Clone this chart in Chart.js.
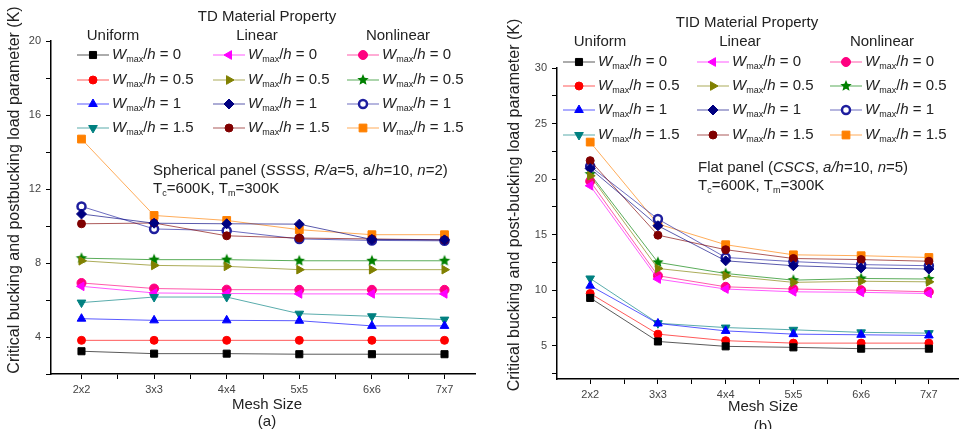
<!DOCTYPE html>
<html>
<head>
<meta charset="utf-8">
<script src="https://cdn.jsdelivr.net/npm/chart.js@4.4.1/dist/chart.umd.min.js"></script>
<style>
    html, body { margin: 0; padding: 0; background: #fff; }
    #wrap { position: relative; width: 965px; height: 429px; overflow: hidden; }
    #chartA { position: absolute; left: 0; top: 0; }
    #chartB { position: absolute; left: 483px; top: 0; }
</style>
</head>
<body>
<div id="wrap">
    <canvas id="chartA" width="482" height="429"></canvas>
    <canvas id="chartB" width="482" height="429"></canvas>
</div>
<script>
// categories / tick labels
const meshSizes = ['2x2', '3x3', '4x4', '5x5', '6x6', '7x7'];
const profiles = ['Uniform', 'Linear', 'Nonlinear'];
const wRatios = ['0', '0.5', '1', '1.5'];
const sphYLabels = [4, 8, 12, 16, 20];
const flatYLabels = [5, 10, 15, 20, 25, 30];

// (a) spherical panel, SSSS
const sphUniform0 = [3.23, 3.10, 3.10, 3.07, 3.07, 3.07];
const sphUniform05 = [3.82, 3.82, 3.82, 3.82, 3.82, 3.82];
const sphUniform1 = [4.99, 4.90, 4.90, 4.88, 4.60, 4.60];
const sphUniform15 = [5.86, 6.16, 6.16, 5.26, 5.12, 4.94];
const sphLinear0 = [6.74, 6.38, 6.35, 6.33, 6.33, 6.33];
const sphLinear05 = [8.12, 7.87, 7.82, 7.64, 7.64, 7.64];
const sphLinear1 = [10.65, 10.15, 10.12, 10.10, 9.27, 9.25];
const sphLinear15 = [10.12, 10.16, 9.47, 9.35, 9.30, 9.25];
const sphNonlinear0 = [6.92, 6.62, 6.56, 6.55, 6.55, 6.55];
const sphNonlinear05 = [8.26, 8.18, 8.18, 8.12, 8.12, 8.12];
const sphNonlinear1 = [11.06, 9.84, 9.75, 9.30, 9.22, 9.20];
const sphNonlinear15 = [14.70, 10.57, 10.30, 9.80, 9.53, 9.53];

// (b) flat panel, CSCS
const flatUniform0 = [9.30, 5.38, 4.94, 4.85, 4.73, 4.73];
const flatUniform05 = [9.70, 6.04, 5.45, 5.23, 5.23, 5.23];
const flatUniform1 = [10.40, 7.00, 6.33, 6.04, 5.98, 5.92];
const flatUniform15 = [11.05, 7.02, 6.63, 6.43, 6.20, 6.13];
const flatLinear0 = [19.40, 11.00, 10.10, 9.85, 9.80, 9.70];
const flatLinear05 = [20.30, 11.95, 11.30, 10.70, 10.80, 10.75];
const flatLinear1 = [20.95, 15.80, 12.64, 12.20, 12.00, 11.90];
const flatLinear15 = [21.66, 14.95, 13.64, 12.85, 12.75, 12.60];
const flatNonlinear0 = [19.80, 11.30, 10.30, 10.10, 10.00, 9.85];
const flatNonlinear05 = [20.45, 12.50, 11.50, 10.90, 11.05, 11.00];
const flatNonlinear1 = [21.15, 16.40, 12.94, 12.57, 12.30, 12.20];
const flatNonlinear15 = [23.33, 15.96, 14.09, 13.18, 13.10, 12.94];

const FONT = '"Liberation Sans", Arial, sans-serif';

// filled five point star for the nonlinear 0.5 series
function makeStar(color, r) {
    const c = document.createElement('canvas');
    const s = Math.ceil(r * 2) + 2;
    c.width = c.height = s;
    const g = c.getContext('2d');
    g.fillStyle = color;
    g.beginPath();
    for (let i = 0; i < 10; i++) {
        const rr = i % 2 ? r * 0.45 : r;
        const a = -Math.PI / 2 + i * Math.PI / 5;
        g.lineTo(s / 2 + rr * Math.cos(a), s / 2 + rr * Math.sin(a));
    }
    g.closePath();
    g.fill();
    return c;
}

const styles = {
    Uniform: [
        { color: '#000000', pointStyle: 'rect', radius: 5 },
        { color: '#ff0000', pointStyle: 'circle', radius: 4 },
        { color: '#0000ff', pointStyle: 'triangle', radius: 5 },
        { color: '#008080', pointStyle: 'triangle', rotation: 180, radius: 5 }
    ],
    Linear: [
        { color: '#ff00ff', pointStyle: 'triangle', rotation: 270, radius: 5 },
        { color: '#808000', pointStyle: 'triangle', rotation: 90, radius: 5 },
        { color: '#000080', pointStyle: 'rectRot', radius: 5 },
        { color: '#800000', pointStyle: 'circle', radius: 4 }
    ],
    Nonlinear: [
        { color: '#ff0080', pointStyle: 'circle', radius: 4.5 },
        { color: '#008000', pointStyle: makeStar('#008000', 6), radius: 6 },
        { color: '#1e1e9e', pointStyle: 'circle', radius: 4, fill: '#ffffff', borderWidth: 2.5 },
        { color: '#ff8000', pointStyle: 'rect', radius: 5.5 }
    ]
};

function fade(hex, a) {
    const n = parseInt(hex.slice(1), 16);
    return `rgba(${n >> 16}, ${(n >> 8) & 255}, ${n & 255}, ${a})`;
}

function buildDatasets(series) {
    const out = [];
    profiles.forEach(p => {
        series[p].forEach((vals, i) => {
            const s = styles[p][i];
            out.push({
                label: `${p} Wmax/h = ${wRatios[i]}`,
                profile: p,
                ratio: wRatios[i],
                data: vals.map((v, k) => ({ x: k, y: v })),
                borderColor: fade(s.color, 0.65),
                borderWidth: 1,
                backgroundColor: s.fill || s.color,
                pointBackgroundColor: s.fill || s.color,
                pointBorderColor: s.color,
                pointBorderWidth: s.borderWidth || 1,
                pointStyle: s.pointStyle,
                pointRotation: s.rotation || 0,
                pointRadius: s.radius,
                tension: 0
            });
        });
    });
    return out;
}

// draw a run of text pieces (italic / subscript) from x
function drawRuns(ctx, x, y, runs, size) {
    runs.forEach(r => {
        const sz = r.sub ? Math.round(size * 0.6) : size;
        ctx.font = `${r.i ? 'italic ' : ''}${sz}px ${FONT}`;
        ctx.fillText(r.t, x, r.sub ? y + 5 : y);
        x += ctx.measureText(r.t).width;
    });
}

function makeTextPlugin(cfg) {
    return {
        id: 'panelText',
        afterDraw(chart) {
            const ctx = chart.ctx;
            ctx.save();
            ctx.fillStyle = '#222';
            ctx.textBaseline = 'middle';

            // legend header
            ctx.textAlign = 'center';
            ctx.font = `15px ${FONT}`;
            ctx.fillText(cfg.legendTitle, cfg.titleX, cfg.titleY);
            profiles.forEach((p, c) => ctx.fillText(p, cfg.headerX[c], cfg.headerY));

            // legend rows
            ctx.textAlign = 'left';
            chart.data.datasets.forEach(ds => {
                const c = profiles.indexOf(ds.profile);
                const r = wRatios.indexOf(ds.ratio);
                const y = cfg.rowY[r];
                const x0 = cfg.sampleX[c];
                const x1 = x0 + 32;
                ctx.strokeStyle = ds.borderColor;
                ctx.lineWidth = 1;
                ctx.beginPath();
                ctx.moveTo(x0, y);
                ctx.lineTo(x1, y);
                ctx.stroke();
                ctx.fillStyle = ds.pointBackgroundColor;
                ctx.strokeStyle = ds.pointBorderColor;
                ctx.lineWidth = ds.pointBorderWidth;
                Chart.helpers.drawPoint(ctx, {
                    pointStyle: ds.pointStyle,
                    rotation: ds.pointRotation,
                    radius: ds.pointRadius,
                    borderWidth: ds.pointBorderWidth
                }, (x0 + x1) / 2, y);
                ctx.fillStyle = '#222';
                drawRuns(ctx, x1 + 3, y, [
                    { t: 'W', i: true }, { t: 'max', sub: true }, { t: '/' },
                    { t: 'h', i: true }, { t: ' = ' + ds.ratio }
                ], 15);
            });

            // panel description
            cfg.notes.forEach((runs, k) => drawRuns(ctx, cfg.noteX, cfg.noteY[k], runs, 15));

            // axis titles
            ctx.textAlign = 'center';
            ctx.font = `15px ${FONT}`;
            ctx.fillText('Mesh Size', cfg.xTitleX, cfg.xTitleY);
            ctx.fillText(cfg.tag, cfg.xTitleX, cfg.tagY);
            ctx.font = `16px ${FONT}`;
            ctx.translate(cfg.yTitleX, cfg.yTitleY);
            ctx.rotate(-Math.PI / 2);
            ctx.fillText(cfg.yTitle, 0, 0);
            ctx.restore();
        }
    };
}

function makePanel(canvasId, series, cfg) {
    const axisFont = { family: FONT, size: 11 };
    return new Chart(document.getElementById(canvasId), {
        type: 'line',
        data: { datasets: buildDatasets(series) },
        options: {
            responsive: false,
            animation: false,
            events: [],
            layout: { padding: cfg.padding },
            plugins: { legend: { display: false }, tooltip: { enabled: false } },
            scales: {
                x: {
                    type: 'linear',
                    min: cfg.xMin,
                    max: cfg.xMax,
                    afterBuildTicks: scale => {
                        scale.ticks = [0, 0.5, 1, 1.5, 2, 2.5, 3, 3.5, 4, 4.5, 5].map(v => ({ value: v }));
                    },
                    afterFit: scale => { scale.height = cfg.xHeight; },
                    grid: { drawOnChartArea: false, tickLength: 5, color: '#000' },
                    border: { color: '#000', width: 1.5 },
                    ticks: {
                        autoSkip: false,
                        maxRotation: 0,
                        padding: 4,
                        color: '#444',
                        font: axisFont,
                        callback: v => Number.isInteger(v) ? meshSizes[v] : ''
                    }
                },
                y: {
                    min: cfg.yMin,
                    max: cfg.yMax,
                    afterBuildTicks: scale => {
                        const t = [];
                        for (let v = cfg.yMinor; v <= cfg.yMax + 1e-9; v += cfg.yMinor) t.push({ value: v });
                        scale.ticks = t;
                    },
                    afterFit: scale => { scale.width = cfg.yWidth; },
                    grid: { drawOnChartArea: false, tickLength: 5, color: '#000' },
                    border: { color: '#000', width: 1.5 },
                    ticks: {
                        padding: 5,
                        color: '#444',
                        font: axisFont,
                        callback: v => cfg.yLabels.includes(v) ? String(v) : ''
                    }
                }
            }
        },
        plugins: [makeTextPlugin(cfg)]
    });
}

makePanel('chartA', {
    Uniform: [sphUniform0, sphUniform05, sphUniform1, sphUniform15],
    Linear: [sphLinear0, sphLinear05, sphLinear1, sphLinear15],
    Nonlinear: [sphNonlinear0, sphNonlinear05, sphNonlinear1, sphNonlinear15]
}, {
    padding: { top: 41, right: 4, left: 0, bottom: 0 },
    xMin: -0.42, xMax: 5.42, xHeight: 55,
    yMin: 2, yMax: 20, yMinor: 2, yLabels: sphYLabels, yWidth: 51,
    legendTitle: 'TD Material Property', titleX: 267, titleY: 17,
    headerX: [113, 257, 398], headerY: 36,
    rowY: [55, 80, 104, 128], sampleX: [77, 213, 347],
    noteX: 153, noteY: [171, 189],
    notes: [
        [{ t: 'Spherical panel (' }, { t: 'SSSS', i: true }, { t: ', ' }, { t: 'R/a', i: true },
         { t: '=5, a/' }, { t: 'h', i: true }, { t: '=10, ' }, { t: 'n', i: true }, { t: '=2)' }],
        [{ t: 'T' }, { t: 'c', sub: true }, { t: '=600K, T' }, { t: 'm', sub: true }, { t: '=300K' }]
    ],
    xTitleX: 267, xTitleY: 405, tag: '(a)', tagY: 422,
    yTitle: 'Critical bucking and postbucking load parameter (K)', yTitleX: 15, yTitleY: 190
});

makePanel('chartB', {
    Uniform: [flatUniform0, flatUniform05, flatUniform1, flatUniform15],
    Linear: [flatLinear0, flatLinear05, flatLinear1, flatLinear15],
    Nonlinear: [flatNonlinear0, flatNonlinear05, flatNonlinear1, flatNonlinear15]
}, {
    padding: { top: 68, right: 0, left: 0, bottom: 0 },
    xMin: -0.49, xMax: 5.43, xHeight: 50,
    yMin: 2, yMax: 30, yMinor: 2.5, yLabels: flatYLabels, yWidth: 74,
    legendTitle: 'TID Material Property', titleX: 264, titleY: 23,
    headerX: [117, 257, 399], headerY: 42,
    rowY: [62, 86, 110, 135], sampleX: [80, 214, 347],
    noteX: 215, noteY: [168, 186],
    notes: [
        [{ t: 'Flat panel (' }, { t: 'CSCS', i: true }, { t: ', ' }, { t: 'a/h', i: true },
         { t: '=10, ' }, { t: 'n', i: true }, { t: '=5)' }],
        [{ t: 'T' }, { t: 'c', sub: true }, { t: '=600K, T' }, { t: 'm', sub: true }, { t: '=300K' }]
    ],
    xTitleX: 280, xTitleY: 407, tag: '(b)', tagY: 427,
    yTitle: 'Critical bucking and post-bucking load parameter (K)', yTitleX: 32, yTitleY: 205
});
</script>
</body>
</html>
